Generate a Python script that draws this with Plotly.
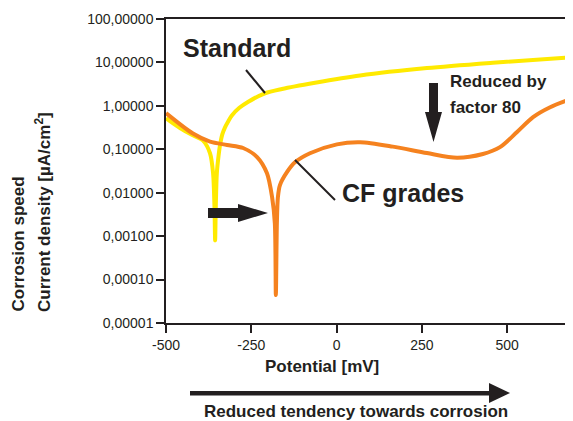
import plotly.graph_objects as go

# ---- data ----
std_mv = [-500, -459, -421, -392, -371, -362, -358, -356, -354, -351, -346, -342, -335,
          -327, -317, -307, -285, -260, -210, -160, -63, 69, 265, 458, 693]
std_ua = [0.52, 0.31, 0.21, 0.16, 0.081, 0.028, 0.005, 0.0008, 0.005, 0.028, 0.07, 0.12, 0.22,
          0.32, 0.45, 0.6, 0.9, 1.23, 1.95, 2.45, 3.4, 5.0, 7.4, 9.8, 13.2]

cf_mv = [-500, -421, -371, -321, -274, -233, -204, -189, -181, -178, -175, -172,
         -166, -145, -122, -78, 1, 69, 165, 265, 353, 429, 479, 529, 576, 626, 693]
cf_ua = [0.68, 0.23, 0.15, 0.126, 0.107, 0.066, 0.028, 0.0079, 0.002, 0.000044, 0.002, 0.0079,
         0.015, 0.03, 0.05, 0.081, 0.13, 0.145, 0.115, 0.082, 0.064, 0.078, 0.112, 0.25, 0.55,
         0.93, 1.5]

x_ticks = [-500, -250, 0, 250, 500]
x_ticklabels = ["-500", "-250", "0", "250", "500"]
y_ticks = [1e-5, 1e-4, 1e-3, 1e-2, 1e-1, 1, 10, 100]
y_ticklabels = ["0,00001", "0,00010", "0,00100", "0,01000", "0,10000",
                "1,00000", "10,00000", "100,00000"]

# page body has an 8px margin: draw the figure 8px smaller and shift the layout
OFF = 8
W, H = 573, 421
L, R, T, B = 166, 573, 19, 323
INK = "#231f20"
YELLOW = "#FFEA00"
ORANGE = "#F5821F"


def px(x):
    return (x - L) / (R - L)


def py(y):
    return (B - y) / (B - T)


fig = go.Figure()
fig.add_trace(go.Scatter(x=std_mv, y=std_ua, mode="lines", name="Standard",
                         line=dict(color=YELLOW, width=4, shape="spline", smoothing=0.8)))
fig.add_trace(go.Scatter(x=cf_mv, y=cf_ua, mode="lines", name="CF grades",
                         line=dict(color=ORANGE, width=4, shape="spline", smoothing=0.8)))

font = "Liberation Sans, Arial, Helvetica, sans-serif"

fig.update_layout(
    width=W - OFF, height=H - OFF,
    margin=dict(l=L - OFF, r=W - R, t=T - OFF, b=H - B, pad=0),
    paper_bgcolor="white", plot_bgcolor="white",
    showlegend=False,
    font=dict(family=font, color=INK, size=14),
    xaxis=dict(range=[-500, 693], tickvals=x_ticks, ticktext=x_ticklabels,
               showgrid=False, zeroline=False, showline=True, linecolor=INK, linewidth=1.5,
               mirror=True, ticks="outside", ticklen=8, tickwidth=1.5, tickcolor=INK,
               tickfont=dict(size=14, color=INK)),
    yaxis=dict(type="log", range=[-5, 2], tickvals=y_ticks, ticktext=y_ticklabels,
               showgrid=False, zeroline=False, showline=True, linecolor=INK, linewidth=1.5,
               ticks="outside", ticklen=8, tickwidth=1.5, tickcolor=INK,
               tickfont=dict(size=14, color=INK)),
)

bold = dict(family=font, color=INK)
ann = []
ann.append(dict(text="<b>Standard</b>", x=px(237), y=py(48), font=dict(size=25, **bold)))
ann.append(dict(text="<b>CF grades</b>", x=px(403), y=py(193), font=dict(size=25, **bold)))
ann.append(dict(text="<b>Reduced by</b>", x=px(448), y=py(81), xanchor="left",
                font=dict(size=17, **bold)))
ann.append(dict(text="<b>factor 80</b>", x=px(448), y=py(107), xanchor="left",
                font=dict(size=17, **bold)))
ann.append(dict(text="<b>Potential [mV]</b>", x=px(322), y=py(366), font=dict(size=17, **bold)))
ann.append(dict(text="<b>Reduced tendency towards corrosion</b>", x=px(356), y=py(411),
                font=dict(size=17, **bold)))
ann.append(dict(text="<b>Corrosion speed</b>", x=px(18), y=py(314), yanchor="bottom",
                textangle=-90, font=dict(size=17, **bold)))
ann.append(dict(text="<b>Current density [µA/cm<sup>2</sup>]</b>", x=px(43), y=py(314),
                yanchor="bottom", textangle=-90, font=dict(size=17, **bold)))
for a in ann:
    a.setdefault("xanchor", "center")
    a.setdefault("yanchor", "middle")
    a.update(xref="paper", yref="paper", showarrow=False)
fig.update_layout(annotations=ann)


def poly(points):
    d = "M " + " L ".join(f"{px(x):.5f},{py(y):.5f}" for x, y in points) + " Z"
    return dict(type="path", path=d, xref="paper", yref="paper",
                fillcolor=INK, line=dict(width=0), layer="above")


def seg(x0, y0, x1, y1, w=2):
    return dict(type="line", x0=px(x0), y0=py(y0), x1=px(x1), y1=py(y1),
                xref="paper", yref="paper", line=dict(color=INK, width=w), layer="above")


shapes = [
    seg(246, 70, 265, 93),
    seg(295, 160, 335, 200),
    # down arrow
    poly([(429, 83), (438, 83), (438, 112), (442, 112), (433.5, 142), (425, 112), (429, 112)]),
    # right arrow in plot
    poly([(208, 208), (238, 208), (238, 204), (268, 213), (238, 222), (238, 218), (208, 218)]),
    # bottom arrow
    poly([(190, 391), (489, 391), (489, 383), (510, 393), (489, 403), (489, 395.5), (190, 395.5)]),
]
fig.update_layout(shapes=shapes)

fig.write_html("out.html")
